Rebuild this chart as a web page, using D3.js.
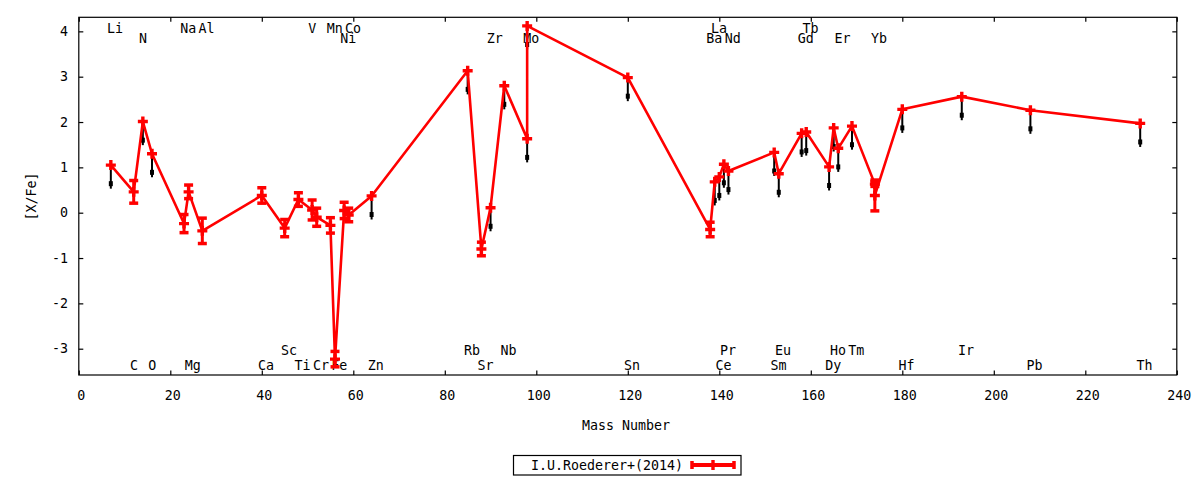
<!DOCTYPE html>
<html>
<head>
<meta charset="utf-8">
<script src="https://cdn.jsdelivr.net/npm/d3@7/dist/d3.min.js"></script>
<style>
  html, body { margin: 0; padding: 0; background: #fff; }
  svg text { font-family: "DejaVu Sans Mono", monospace; font-size: 13.3px; fill: #000; }
</style>
</head>
<body>
<svg id="chart" width="1200" height="480"></svg>
<script>
// ---- data ----
const elements = ["Li","C","N","O","Na","Mg","Al","Ca","Sc","Ti","V","Cr","Mn","Fe","Ni","Co","Zn",
  "Rb","Sr","Zr","Nb","Mo","Mo","Sn","Ba","La","Ce","Pr","Nd","Sm","Eu","Gd","Tb","Dy","Ho","Er","Tm",
  "Yb","Yb","Hf","Ir","Pb","Th"];
const massNumbers = [7,12,14,16,23,24,27,40,45,48,51,52,55,56,58,59,64,
  85,88,90,93,98,98,120,138,139,140,141,142,152,153,158,159,164,165,166,169,
  174,174,180,193,208,232];
const xfeValues = [1.05,0.46,2.01,1.30,-0.24,0.46,-0.40,0.38,-0.34,0.29,0.06,-0.10,-0.28,-3.23,0.05,-0.05,0.37,
  3.13,-0.80,0.11,2.80,1.63,4.12,2.98,-0.37,0.68,0.79,1.07,0.92,1.33,0.86,1.75,1.78,1.01,1.87,1.42,1.91,
  0.63,0.38,2.28,2.56,2.26,1.97];
const xfeErrors = [0,0.25,0,0,0.20,0.15,0.28,0.17,0.19,0.15,0.22,0.20,0.17,0.17,0.18,0.15,0,
  0,0.15,0,0,0,0,0,0.16,0,0,0,0,0,0,0,0,0,0,0,0,
  0.05,0.34,0,0,0,0];
const upperLimit = [1,0,1,1,0,0,0,0,0,0,0,0,0,0,0,0,1,
  1,0,1,1,1,1,1,0,1,1,1,1,1,1,1,1,1,1,1,1,
  0,0,1,1,1,1];
const xTicks = [0,20,40,60,80,100,120,140,160,180,200,220,240];
const yTicks = [-3,-2,-1,0,1,2,3,4];
const seriesName = "I.U.Roederer+(2014)";
const xTitle = "Mass Number";
const yTitle = "[X/Fe]";

// element label slots (which row each element name sits in)
const labelRows = {
  top1: ["Li","Na","Al","V","Mn","Co","La","Tb"],
  top2: ["N","Ni","Zr","Mo","Ba","Nd","Gd","Er","Yb"],
  bot1: ["Sc","Rb","Nb","Pr","Eu","Ho","Tm","Ir"],
  bot2: ["C","O","Mg","Ca","Ti","Cr","Fe","Zn","Sr","Sn","Ce","Sm","Dy","Hf","Pb","Th"]
};

// ---- layout ----
const L = 78.8, R = 1176.8, T = 17.3, B = 375;
const svg = d3.select("#chart");
const x = d3.scaleLinear().domain([0, 240]).range([L, R]);
const y = d3.scaleLinear().domain([-3.58, 4.31]).range([B, T]);
const RED = "#ff0000";

const pts = elements.map((e, i) => ({ el: e, m: massNumbers[i], v: xfeValues[i], err: xfeErrors[i], ul: upperLimit[i] }));

// frame
svg.append("rect").attr("x", L).attr("y", T).attr("width", R - L).attr("height", B - T)
  .attr("fill", "none").attr("stroke", "#000").attr("stroke-width", 1.2);

// axes with inward ticks (mirrored)
const tl = 4.5;
const gxB = svg.append("g").attr("transform", `translate(0,${B})`)
  .call(d3.axisBottom(x).tickValues(xTicks).tickSizeInner(-tl).tickSizeOuter(0).tickFormat(""));
const gxT = svg.append("g").attr("transform", `translate(0,${T})`)
  .call(d3.axisTop(x).tickValues(xTicks).tickSizeInner(-tl).tickSizeOuter(0).tickFormat(""));
const gyL = svg.append("g").attr("transform", `translate(${L},0)`)
  .call(d3.axisLeft(y).tickValues(yTicks).tickSizeInner(-tl).tickSizeOuter(0).tickFormat(""));
const gyR = svg.append("g").attr("transform", `translate(${R},0)`)
  .call(d3.axisRight(y).tickValues(yTicks).tickSizeInner(-tl).tickSizeOuter(0).tickFormat(""));
[gxB, gxT, gyL, gyR].forEach(g => {
  g.select(".domain").remove();
  g.selectAll(".tick line").attr("stroke", "#000").attr("stroke-width", 1.2);
});

// tick labels
svg.append("g").selectAll("text").data(xTicks).join("text")
  .attr("x", d => x(d) + 2.5).attr("y", 400).attr("text-anchor", "middle").text(d => d);
svg.append("g").selectAll("text").data(yTicks).join("text")
  .attr("x", 68).attr("y", d => y(d)).attr("text-anchor", "end")
  .attr("dominant-baseline", "central").text(d => d);

// axis titles
svg.append("text").attr("x", 626).attr("y", 430).attr("text-anchor", "middle").text(xTitle);
svg.append("text").attr("transform", "translate(31.5,196.5) rotate(-90)")
  .attr("text-anchor", "middle").attr("dominant-baseline", "central").text(yTitle);

// element labels
const rowBase = { top1: 33.3, top2: 43.3, bot1: 355, bot2: 369.5 };
const labelG = svg.append("g");
Object.keys(labelRows).forEach(row => {
  labelRows[row].forEach(name => {
    const p = pts.find(d => d.el === name);
    labelG.append("text").attr("x", x(p.m) - 3.8).attr("y", rowBase[row]).text(name);
  });
});

// upper-limit arrows (black)
const ulPts = pts.filter(d => d.ul);
const arrG = svg.append("g");
arrG.selectAll("line").data(ulPts).join("line")
  .attr("x1", d => x(d.m)).attr("x2", d => x(d.m))
  .attr("y1", d => y(d.v)).attr("y2", d => y(d.v - 0.52))
  .attr("stroke", "#000").attr("stroke-width", 2);
arrG.selectAll("rect").data(ulPts).join("rect")
  .attr("x", d => x(d.m) - 2).attr("y", d => y(d.v - 0.41) - 2.5)
  .attr("width", 4).attr("height", 5).attr("fill", "#000");

// connecting line
svg.append("path").datum(pts)
  .attr("d", d3.line().x(d => x(d.m)).y(d => y(d.v)))
  .attr("fill", "none").attr("stroke", RED).attr("stroke-width", 2.6).attr("stroke-linejoin", "round");

// error bars
const ebPts = pts.filter(d => d.err > 0);
const ebG = svg.append("g").attr("stroke", RED);
ebG.selectAll("line.v").data(ebPts).join("line").attr("class", "v")
  .attr("x1", d => x(d.m)).attr("x2", d => x(d.m))
  .attr("y1", d => y(d.v - d.err)).attr("y2", d => y(d.v + d.err)).attr("stroke-width", 3);
ebG.selectAll("line.cl").data(ebPts).join("line").attr("class", "cl")
  .attr("x1", d => x(d.m) - 4.5).attr("x2", d => x(d.m) + 4.5)
  .attr("y1", d => y(d.v - d.err)).attr("y2", d => y(d.v - d.err)).attr("stroke-width", 3.5);
ebG.selectAll("line.ch").data(ebPts).join("line").attr("class", "ch")
  .attr("x1", d => x(d.m) - 4.5).attr("x2", d => x(d.m) + 4.5)
  .attr("y1", d => y(d.v + d.err)).attr("y2", d => y(d.v + d.err)).attr("stroke-width", 3.5);

// plus points
const plus = d3.symbol().type(d3.symbolCross).size(60);
svg.append("g").selectAll("path").data(pts).join("path")
  .attr("transform", d => `translate(${x(d.m)},${y(d.v)})`)
  .attr("d", "M-5,-1.7H-1.7V-5H1.7V-1.7H5V1.7H1.7V5H-1.7V1.7H-5Z")
  .attr("fill", RED);

// legend
const lg = svg.append("g");
lg.append("rect").attr("x", 513.5).attr("y", 455.5).attr("width", 227.5).attr("height", 19.5)
  .attr("fill", "#fff").attr("stroke", "#000").attr("stroke-width", 1.2);
lg.append("text").attr("x", 531).attr("y", 470).text(seriesName);
const ly = 465, lx1 = 692, lx2 = 734;
lg.append("line").attr("x1", lx1).attr("x2", lx2).attr("y1", ly).attr("y2", ly)
  .attr("stroke", RED).attr("stroke-width", 4);
[lx1, lx2].forEach(cx => lg.append("line").attr("x1", cx).attr("x2", cx)
  .attr("y1", ly - 4).attr("y2", ly + 4).attr("stroke", RED).attr("stroke-width", 3.5));
lg.append("path").attr("transform", `translate(${(lx1 + lx2) / 2},${ly})`)
  .attr("d", "M-5,-1.7H-1.7V-5H1.7V-1.7H5V1.7H1.7V5H-1.7V1.7H-5Z").attr("fill", RED);
</script>
</body>
</html>
